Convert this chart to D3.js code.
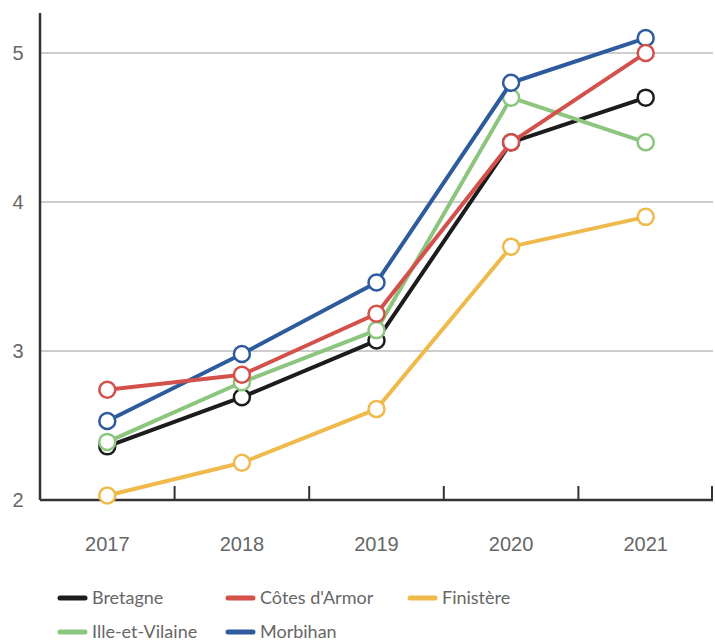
<!DOCTYPE html>
<html>
<head>
<meta charset="utf-8">
<script src="https://cdn.jsdelivr.net/npm/d3@7"></script>
<style>
  body { margin: 0; background: #fff; }
  svg { display: block; font-family: "Lato", "Open Sans", sans-serif; }
</style>
</head>
<body>
<div id="chart"></div>
<script>
// Data
const years = ["2017", "2018", "2019", "2020", "2021"];
const bretagne = [2.36, 2.69, 3.07, 4.40, 4.70];
const cotesArmor = [2.74, 2.84, 3.25, 4.40, 5.00];
const finistere = [2.03, 2.25, 2.61, 3.70, 3.90];
const illeVilaine = [2.39, 2.79, 3.14, 4.70, 4.40];
const morbihan = [2.53, 2.98, 3.46, 4.80, 5.10];
const yTicks = [2, 3, 4, 5];

const series = [
  { name: "Bretagne", values: bretagne, color: "#1c1c1c" },
  { name: "Côtes d'Armor", values: cotesArmor, color: "#d4504b" },
  { name: "Finistère", values: finistere, color: "#efb94c" },
  { name: "Ille-et-Vilaine", values: illeVilaine, color: "#8cc57e" },
  { name: "Morbihan", values: morbihan, color: "#2d5b9e" }
];
// drawing order (last on top)
const drawOrder = ["Bretagne", "Finistère", "Ille-et-Vilaine", "Morbihan", "Côtes d'Armor"];

const W = 715, H = 644;
const margin = { top: 13, right: 2, bottom: 144, left: 40 };
const innerW = W - margin.left - margin.right;
const innerH = H - margin.top - margin.bottom;

const svg = d3.select("#chart").append("svg")
  .attr("width", W)
  .attr("height", H);

const g = svg.append("g")
  .attr("transform", `translate(${margin.left},${margin.top})`);

const x = d3.scaleBand().domain(years).range([0, innerW]).padding(0);
const y = d3.scaleLinear().domain([2, 5.268]).range([innerH, 0]);

// gridlines
g.append("g")
  .selectAll("line")
  .data(yTicks.filter(d => d > 2))
  .enter()
  .append("line")
  .attr("x1", 0)
  .attr("x2", innerW)
  .attr("y1", d => y(d))
  .attr("y2", d => y(d))
  .attr("stroke", "#bdbdbd")
  .attr("stroke-width", 1.5);

// y axis
const yAxis = g.append("g")
  .call(d3.axisLeft(y).tickValues(yTicks).tickSize(0).tickPadding(16).tickFormat(d3.format("d")));
yAxis.select(".domain").remove();
yAxis.selectAll("text")
  .attr("fill", "#666")
  .attr("text-anchor", "middle")
  .attr("x", -22)
  .style("font-size", "20px");
g.append("line")
  .attr("x1", 0).attr("x2", 0)
  .attr("y1", 0).attr("y2", innerH)
  .attr("stroke", "#333")
  .attr("stroke-width", 2.5);

// x axis: line + upward ticks at band edges
const xAxis = g.append("g")
  .attr("transform", `translate(0,${innerH})`)
  .call(d3.axisBottom(x).tickSize(0).tickPadding(37));
xAxis.select(".domain").remove();
xAxis.selectAll("text")
  .attr("fill", "#666")
  .style("font-size", "20px");

g.append("line")
  .attr("x1", 0).attr("x2", innerW)
  .attr("y1", innerH).attr("y2", innerH)
  .attr("stroke", "#333")
  .attr("stroke-width", 2.5);

g.append("g")
  .selectAll("line")
  .data(years.slice(1).map(d => x(d)).concat([innerW - 1]))
  .enter()
  .append("line")
  .attr("x1", d => d).attr("x2", d => d)
  .attr("y1", innerH).attr("y2", innerH - 14)
  .attr("stroke", "#333")
  .attr("stroke-width", 2);

const cx = d => x(d) + x.bandwidth() / 2;
const line = d3.line()
  .x((d, i) => cx(years[i]))
  .y(d => y(d));

const ordered = drawOrder.map(n => series.find(s => s.name === n));

const sg = g.selectAll(".series")
  .data(ordered)
  .enter()
  .append("g")
  .attr("class", "series");

sg.append("path")
  .attr("d", d => line(d.values))
  .attr("fill", "none")
  .attr("stroke", d => d.color)
  .attr("stroke-width", 4)
  .attr("stroke-linejoin", "round");

sg.selectAll("circle")
  .data(d => d.values.map((v, i) => ({ v, i, color: d.color })))
  .enter()
  .append("circle")
  .attr("cx", d => cx(years[d.i]))
  .attr("cy", d => y(d.v))
  .attr("r", 8)
  .attr("fill", "#fff")
  .attr("stroke", d => d.color)
  .attr("stroke-width", 2.5);

// legend
const legendPos = [
  [60, 598], [228, 598], [410, 598],
  [60, 632], [228, 632]
];
const lg = svg.append("g")
  .selectAll("g")
  .data(series)
  .enter()
  .append("g")
  .attr("transform", (d, i) => `translate(${legendPos[i][0]},${legendPos[i][1]})`);

lg.append("line")
  .attr("x1", 0).attr("x2", 25)
  .attr("y1", 0).attr("y2", 0)
  .attr("stroke", d => d.color)
  .attr("stroke-width", 5)
  .attr("stroke-linecap", "round");

lg.append("text")
  .attr("x", 32)
  .attr("y", 0)
  .attr("dy", "0.35em")
  .attr("fill", "#666")
  .style("font-size", "18px")
  .text(d => d.name);
</script>
</body>
</html>
